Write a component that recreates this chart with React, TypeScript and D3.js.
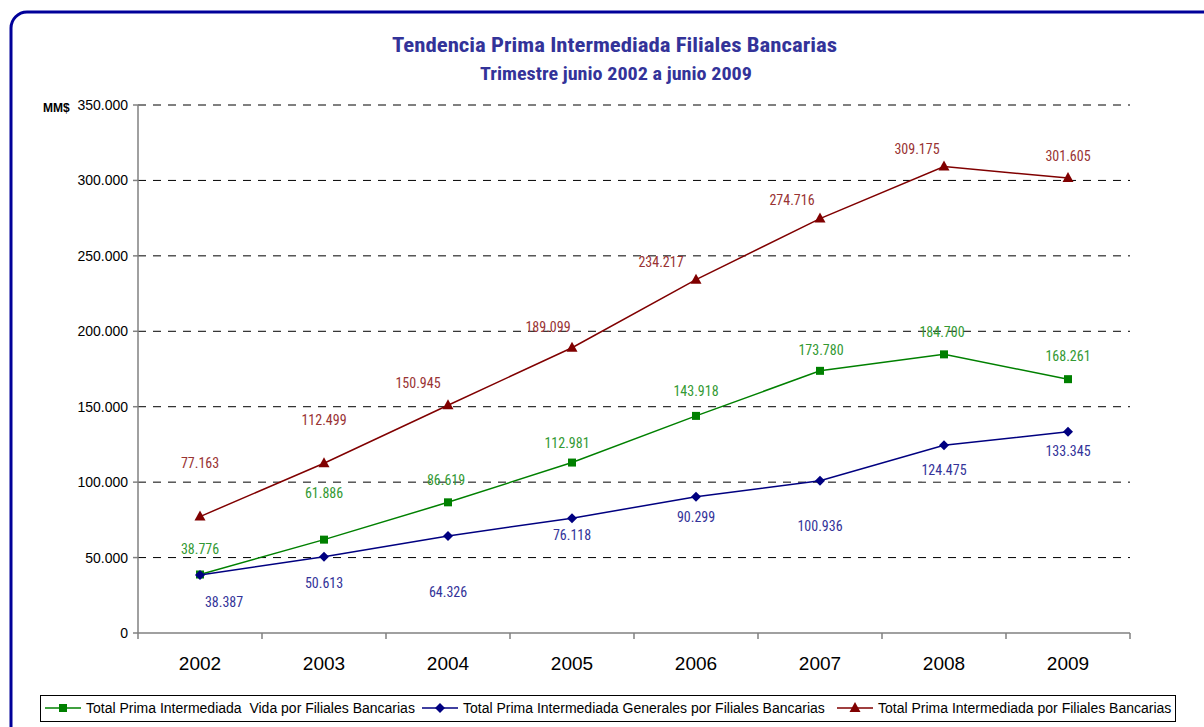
import React from "react";
import * as d3 from "d3";

const years = ["2002", "2003", "2004", "2005", "2006", "2007", "2008", "2009"];
const vida = [38776, 61886, 86619, 112981, 143918, 173780, 184700, 168261];
const generales = [38387, 50613, 64326, 76118, 90299, 100936, 124475, 133345];
const total = [77163, 112499, 150945, 189099, 234217, 274716, 309175, 301605];
const yTicks = [0, 50000, 100000, 150000, 200000, 250000, 300000, 350000];

// label placement offsets (dx, dy) relative to each point
const vidaLabelOff = [[0, -26], [0, -47], [-2, -22], [-5, -20], [0, -25], [1, -21], [-2, -22], [0, -23]];
const genLabelOff = [[24, 27], [0, 26], [0, 56], [0, 17], [0, 20], [0, 45], [0, 25], [0, 19]];
const totLabelOff = [[0, -54], [0, -43], [-30, -22], [-24, -21], [-35, -18], [-28, -19], [-27, -18], [0, -22]];

const fmt = (v: number) => d3.format(",")(v).replace(/,/g, ".");

const NARROW = "'Liberation Sans Narrow', 'Arial Narrow', 'Roboto Condensed', sans-serif";
const SANS = "'Liberation Sans', Arial, sans-serif";

export default function App() {
  const W = 1204, H = 727;
  const x0 = 138, x1 = 1130, yTop = 105, yBot = 633;
  const x = d3.scaleBand<string>().domain(years).range([x0, x1]);
  const y = d3.scaleLinear().domain([0, 350000]).range([yBot, yTop]);
  const cx = (i: number) => (x(years[i]) as number) + x.bandwidth() / 2;

  const line = d3.line<number>().x((_, i) => cx(i)).y((d) => y(d));

  const series = [
    { data: vida, color: "#008000", label: "#339933", off: vidaLabelOff, shape: "square" },
    { data: generales, color: "#000080", label: "#333399", off: genLabelOff, shape: "diamond" },
    { data: total, color: "#800000", label: "#993333", off: totLabelOff, shape: "triangle" },
  ];

  const marker = (shape: string, px: number, py: number, color: string, key: string) => {
    if (shape === "square") return <rect key={key} x={px - 4} y={py - 4} width={8} height={8} fill={color} />;
    if (shape === "diamond")
      return <path key={key} d={`M${px},${py - 5}L${px + 5},${py}L${px},${py + 5}L${px - 5},${py}Z`} fill={color} />;
    return <path key={key} d={`M${px},${py - 6}L${px + 5.5},${py + 4}L${px - 5.5},${py + 4}Z`} fill={color} />;
  };

  const legendItems = [
    { text: "Total Prima Intermediada  Vida por Filiales Bancarias", lx: 45, s: series[0] },
    { text: "Total Prima Intermediada Generales por Filiales Bancarias", lx: 422, s: series[1] },
    { text: "Total Prima Intermediada por Filiales Bancarias", lx: 837, s: series[2] },
  ];

  return (
    <svg width={W} height={H} style={{ position: "absolute", left: 0, top: 0, background: "#fff" }}>
      <rect x={0} y={0} width={W} height={H} fill="#fff" />
      <rect x={11} y={12} width={1220} height={740} rx={16} ry={16} fill="none" stroke="#000099" strokeWidth={3} />

      <text x={614.5} y={52} textAnchor="middle" fontFamily={NARROW} fontWeight="bold" fontSize={21} fill="#333399"
        textLength={445} lengthAdjust="spacingAndGlyphs">
        Tendencia Prima Intermediada Filiales Bancarias
      </text>
      <text x={616} y={80} textAnchor="middle" fontFamily={NARROW} fontWeight="bold" fontSize={18} fill="#333399"
        textLength={272} lengthAdjust="spacingAndGlyphs">
        Trimestre junio 2002 a junio 2009
      </text>

      {/* gridlines */}
      {yTicks.filter((t) => t > 0).map((t) => (
        <line key={"g" + t} x1={x0} x2={x1} y1={y(t)} y2={y(t)} stroke="#000" strokeWidth={1} strokeDasharray="8,7" />
      ))}

      {/* axes */}
      <line x1={x0} x2={x0} y1={yTop} y2={yBot} stroke="#808080" strokeWidth={1.5} />
      <line x1={x0} x2={x1} y1={yBot} y2={yBot} stroke="#808080" strokeWidth={1.5} />
      {yTicks.map((t) => (
        <g key={"yt" + t}>
          <line x1={x0 - 5} x2={x0} y1={y(t)} y2={y(t)} stroke="#808080" strokeWidth={1.5} />
          <text x={128} y={y(t) + 5} textAnchor="end" fontFamily={SANS} fontSize={14} fill="#000">
            {fmt(t)}
          </text>
        </g>
      ))}
      <text x={43} y={112} fontFamily={SANS} fontWeight="bold" fontSize={12} fill="#000">MM$</text>
      {years.map((yr, i) => (
        <g key={"xt" + yr}>
          <line x1={(x(yr) as number)} x2={(x(yr) as number)} y1={yBot} y2={yBot + 6} stroke="#808080" strokeWidth={1.5} />
          <text x={cx(i)} y={670} textAnchor="middle" fontFamily={SANS} fontSize={19} fill="#000">{yr}</text>
        </g>
      ))}
      <line x1={x1} x2={x1} y1={yBot} y2={yBot + 6} stroke="#808080" strokeWidth={1.5} />

      {/* series */}
      {series.map((s, si) => (
        <g key={"s" + si}>
          <path d={line(s.data) as string} fill="none" stroke={s.color} strokeWidth={1.5} />
          {s.data.map((v, i) => marker(s.shape, cx(i), y(v), s.color, "m" + si + "-" + i))}
        </g>
      ))}

      {/* labels */}
      {series.map((s, si) =>
        s.data.map((v, i) => {
          const lx = cx(i) + s.off[i][0];
          const ly = y(v) + s.off[i][1];
          const needsBg = si === 1 && i === 6;
          return (
            <g key={"l" + si + "-" + i}>
              {needsBg && <rect x={lx - 22} y={ly - 9} width={44} height={20} fill="#fff" />}
              <text x={lx} y={ly + 5} textAnchor="middle" fontFamily={NARROW} fontSize={14} fill={s.label}>
                {fmt(v)}
              </text>
            </g>
          );
        })
      )}

      {/* legend */}
      <rect x={40.5} y={695.5} width={1135} height={26} fill="#fff" stroke="#000" strokeWidth={1} />
      {legendItems.map((it, i) => (
        <g key={"lg" + i}>
          <line x1={it.lx} x2={it.lx + 36} y1={708} y2={708} stroke={it.s.color} strokeWidth={1.5} />
          {marker(it.s.shape, it.lx + 18, 708, it.s.color, "lm" + i)}
          <text x={it.lx + 41} y={713} fontFamily={SANS} fontSize={14} fill="#000" style={{ whiteSpace: "pre" }}>
            {it.text}
          </text>
        </g>
      ))}
    </svg>
  );
}
